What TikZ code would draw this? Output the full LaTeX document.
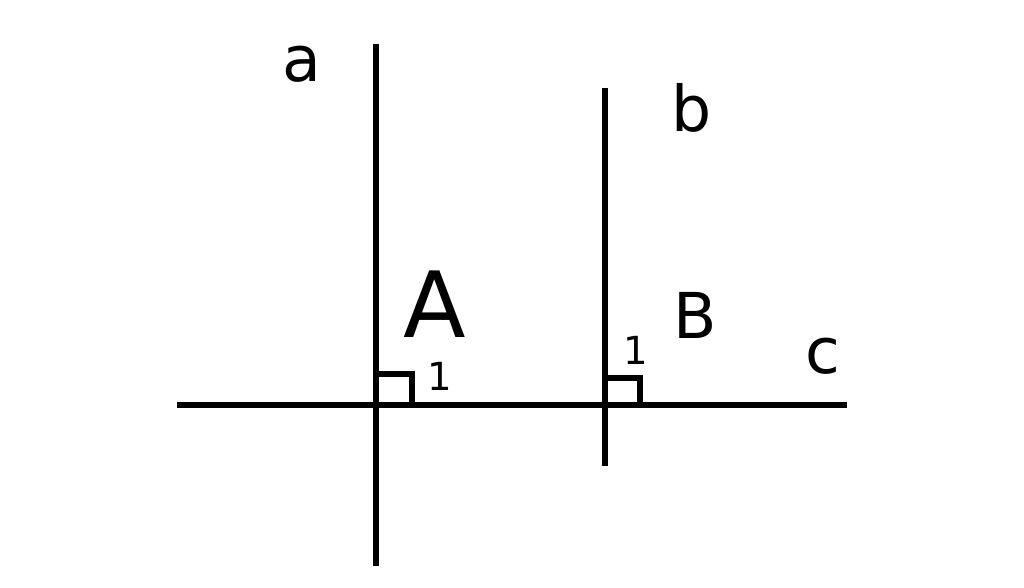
\documentclass[tikz,border=0pt]{standalone}
\usepackage{fontspec}
\setsansfont{DejaVu Sans}
\begin{document}
\begin{tikzpicture}[
  x=0.02cm, y=-0.02cm,
  line/.style={line width=3.3pt},
  lbl/.style={inner sep=0pt, font=\sffamily\fontsize{36}{36}\selectfont},
  big/.style={inner sep=0pt, text depth=0pt, font=\sffamily\fontsize{52}{52}\selectfont},
  small/.style={inner sep=0pt, font=\sffamily\fontsize{22}{22}\selectfont}
]
\useasboundingbox (0,0) rectangle (1024,588);

% lines
\coordinate (cL) at (177,405);
\coordinate (cR) at (847,405);
\coordinate (aT) at (376,44);
\coordinate (aB) at (376,566);
\coordinate (bT) at (605,88);
\coordinate (bB) at (605,466);
\coordinate (A0) at (376,405);
\coordinate (B0) at (605,405);

\draw [line] (cL) -- (cR);
\draw [line] (aT) -- (aB);
\draw [line] (bT) -- (bB);

% right angles
\draw [line] (A0) |- (412,374) -- (412,405);
\draw [line] (B0) |- (640,378) -- (640,405);

% labels
\node [lbl] (la) at (302,64) {a};
\node [lbl] (lb) at (692,108) {b};
\node [lbl] (lc) at (823,356) {c};
\node [big] (lA) at (435,304) {A};
\node [lbl] (lB) at (695,315) {B};
\node [small] (l1) at (440,376) {1};
\node [small] (l2) at (636,350) {1};
\end{tikzpicture}
\end{document}
